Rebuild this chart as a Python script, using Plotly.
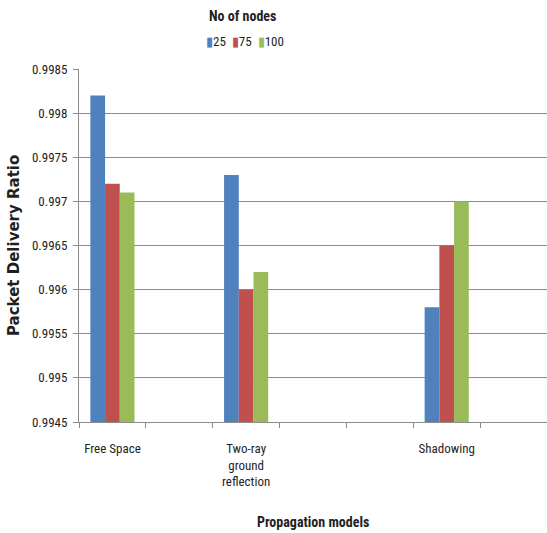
import plotly.graph_objects as go

# Propagation model rows (blank rows kept as empty category slots)
categories = ["Free Space", "", "Two-ray ground reflection", "", "", "Shadowing", ""]
tick_text = ["Free Space", "", "Two-ray<br>ground<br>reflection", "", "", "Shadowing", ""]

# Packet delivery ratio per number of nodes
node_counts = ["25", "75", "100"]
pdr_25 = [0.9982, None, 0.9973, None, None, 0.9958, None]
pdr_75 = [0.9972, None, 0.9960, None, None, 0.9965, None]
pdr_100 = [0.9971, None, 0.9962, None, None, 0.9970, None]

y_tick_labels = ["0.9945", "0.995", "0.9955", "0.996", "0.9965",
                 "0.997", "0.9975", "0.998", "0.9985"]

colors = ["#4F81BD", "#C0504D", "#9BBB59"]
series = [pdr_25, pdr_75, pdr_100]

FONT = "Liberation Sans Narrow, Arial Narrow, Roboto Condensed, Roboto, sans-serif"
GRID = "#8c8c8c"
TXT = "#1f1f1f"

x_idx = list(range(len(categories)))

fig = go.Figure()
for name, vals, col in zip(node_counts, series, colors):
    fig.add_trace(go.Bar(
        x=x_idx, y=vals, name=name,
        marker=dict(color=col, line=dict(width=0)),
        showlegend=False,
    ))

fig.update_layout(
    width=547, height=533,
    margin=dict(l=79, r=0, t=69, b=111),
    paper_bgcolor="white", plot_bgcolor="white",
    barmode="group", bargap=0.34, bargroupgap=0,
    font=dict(family=FONT, size=12, color=TXT),
    showlegend=False,
)

fig.update_xaxes(
    range=[-0.5, len(categories) - 0.5],
    tickmode="array", tickvals=x_idx, ticktext=tick_text,
    ticks="", ticklabelstandoff=14,
    tickfont=dict(family=FONT, size=13, color=TXT),
    showline=True, linecolor=GRID, linewidth=1,
    showgrid=False, zeroline=False,
    minor=dict(tickmode="linear", tick0=-0.5, dtick=1, ticks="outside",
               ticklen=5, tickcolor=GRID, tickwidth=1, showgrid=False),
)

fig.update_yaxes(
    range=[0.9945, 0.9985],
    tickmode="array", tickvals=[float(v) for v in y_tick_labels],
    ticktext=y_tick_labels,
    ticks="outside", ticklen=5, tickcolor=GRID, tickwidth=1,
    ticklabelstandoff=3,
    tickfont=dict(family=FONT, size=13, color=TXT),
    showline=True, linecolor=GRID, linewidth=1,
    showgrid=True, gridcolor=GRID, gridwidth=1, zeroline=False,
)

# Legend row: coloured key square followed by the node count
GAP = "\u00a0\u00a0"
legend_items = GAP.join(
    f"<span style='color:{c}'>▮</span>{n}" for n, c in zip(node_counts, colors)
)

fig.add_annotation(text="<b>No of nodes</b>", xref="paper", yref="paper",
                   x=0.35, y=1.150, xanchor="center", yanchor="middle",
                   showarrow=False, font=dict(family=FONT, size=14, color=TXT))
fig.add_annotation(text=legend_items, xref="paper", yref="paper",
                   x=0.355, y=1.079, xanchor="center", yanchor="middle",
                   showarrow=False, font=dict(family=FONT, size=13, color=TXT))
fig.add_annotation(text="<b>Propagation models</b>", xref="paper", yref="paper",
                   x=0.5, y=-0.282, xanchor="center", yanchor="middle",
                   showarrow=False, font=dict(family=FONT, size=14, color=TXT))
fig.add_annotation(text="<b>Packet Delivery Ratio</b>", xref="paper", yref="paper",
                   x=(13.5 - 79) / 468, y=0.5, xanchor="center", yanchor="middle",
                   textangle=-90, showarrow=False,
                   font=dict(family="DejaVu Sans, sans-serif", size=15, color=TXT))

fig.write_html("out.html")
